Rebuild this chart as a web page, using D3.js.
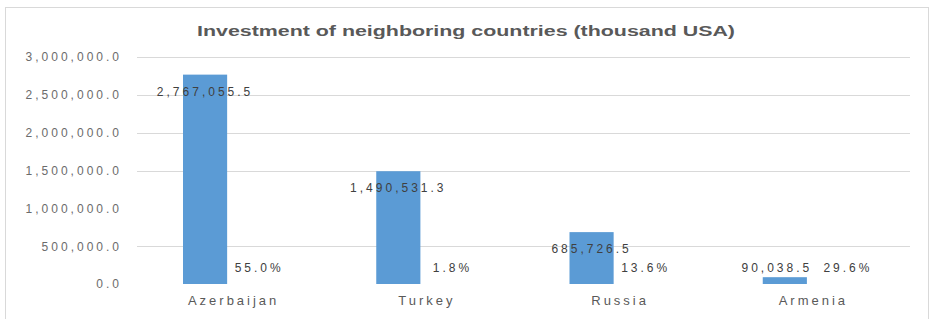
<!DOCTYPE html>
<html>
<head>
<meta charset="utf-8">
<script src="https://cdn.jsdelivr.net/npm/d3@7"></script>
<style>
	body { margin: 0; background: #fff; }
	text { font-family: "Liberation Sans", Arial, sans-serif; }
</style>
</head>
<body>
<svg id="chart" width="931" height="319"></svg>
<script>
var TITLE = "Investment of neighboring countries (thousand USA)";
var COUNTRIES = ["Azerbaijan", "Turkey", "Russia", "Armenia"];
var INVEST = [2767055.5, 1490531.3, 685726.5, 90038.5];
var SHARE = [0.550, 0.018, 0.136, 0.296];
var Y_TICKS = [0, 500000, 1000000, 1500000, 2000000, 2500000, 3000000];
var GRID_TICKS = [500000, 1500000, 2000000, 2500000, 3000000];

var svg = d3.select("#chart");
var fmtNum = d3.format(",.1f");
var fmtPct = d3.format(".1%");

// chart border
svg.append("rect")
	.attr("x", 5.5)
	.attr("y", 7.5)
	.attr("width", 923)
	.attr("height", 330)
	.attr("fill", "white")
	.attr("stroke", "#d9d9d9");

svg.append("text")
	.attr("x", 466)
	.attr("y", 36)
	.attr("text-anchor", "middle")
	.attr("font-size", 14)
	.attr("font-weight", "bold")
	.attr("fill", "#595959")
	.attr("textLength", 538)
	.attr("lengthAdjust", "spacingAndGlyphs")
	.text(TITLE);

var x = d3.scaleBand().domain(COUNTRIES).range([137, 910]);
var xs = d3.scaleBand().domain(["invest", "share"])
	.range([46, x.bandwidth() - 46])
	.paddingInner(0.227);
var y = d3.scaleLinear().domain([0, 3000000]).range([284, 57]);

// gridlines
svg.append("g").selectAll("line")
	.data(GRID_TICKS)
	.join("line")
	.attr("x1", 137)
	.attr("x2", 910)
	.attr("y1", function(d) { return Math.round(y(d)) + 0.5; })
	.attr("y2", function(d) { return Math.round(y(d)) + 0.5; })
	.attr("stroke", "#d9d9d9")
	.attr("stroke-width", 1.2);

// y axis labels
var yAxis = d3.axisLeft(y).tickValues(Y_TICKS).tickFormat(fmtNum).tickSize(0).tickPadding(0);
var yg = svg.append("g").attr("transform", "translate(122,0)").call(yAxis);
yg.select(".domain").remove();
yg.selectAll("text")
	.attr("font-family", "Liberation Sans, Arial, sans-serif")
	.attr("font-size", 12)
	.attr("letter-spacing", "3px")
	.attr("fill", "#6b6b6b");

// x axis labels
var xAxis = d3.axisBottom(x).tickSize(0).tickPadding(0);
var xg = svg.append("g").attr("transform", "translate(0,296)").call(xAxis);
xg.select(".domain").remove();
xg.selectAll("text")
	.attr("font-family", "Liberation Sans, Arial, sans-serif")
	.attr("font-size", 13)
	.attr("letter-spacing", "3px")
	.attr("fill", "#595959");

var rows = COUNTRIES.map(function(c, i) {
	return { country: c, invest: INVEST[i], share: SHARE[i] };
});

function isShort(d) { return y(0) - y(d.invest) < 30; }

var groups = svg.append("g").selectAll("g")
	.data(rows)
	.join("g")
	.attr("transform", function(d) { return "translate(" + x(d.country) + ",0)"; });

// investment bars
groups.append("rect")
	.attr("x", xs("invest"))
	.attr("y", function(d) { return y(d.invest); })
	.attr("width", xs.bandwidth())
	.attr("height", function(d) { return y(0) - y(d.invest); })
	.attr("fill", "#5b9bd5");

// share bars (tiny)
groups.append("rect")
	.attr("x", xs("share"))
	.attr("y", function(d) { return y(d.share); })
	.attr("width", xs.bandwidth())
	.attr("height", function(d) { return y(0) - y(d.share); })
	.attr("fill", "#5b9bd5");

// value labels, pushed aside when sitting on the same row as the share label
groups.append("text")
	.attr("x", function(d) {
		return xs("invest") + xs.bandwidth() / 2 - (isShort(d) ? 8 : 0);
	})
	.attr("y", function(d) {
		return isShort(d) ? 272 : y(d.invest) + 21;
	})
	.attr("text-anchor", "middle")
	.attr("font-size", 12)
	.attr("letter-spacing", "3px")
	.attr("fill", "#404040")
	.text(function(d) { return fmtNum(d.invest); });

// share labels
groups.append("text")
	.attr("x", function(d) {
		return xs("share") + xs.bandwidth() / 2 - 3 + (isShort(d) ? 9 : 0);
	})
	.attr("y", 272)
	.attr("text-anchor", "middle")
	.attr("font-size", 12)
	.attr("letter-spacing", "3px")
	.attr("fill", "#404040")
	.text(function(d) { return fmtPct(d.share); });
</script>
</body>
</html>
